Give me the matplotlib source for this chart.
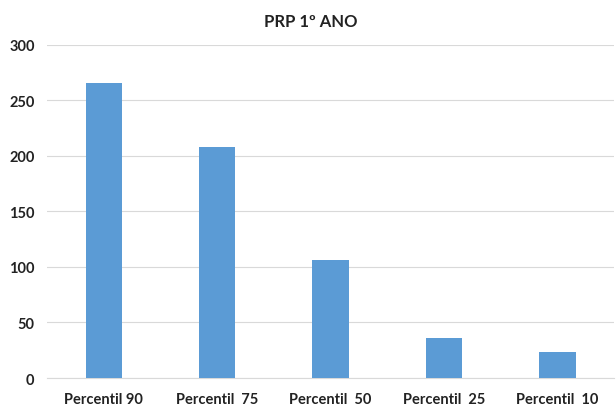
import matplotlib
matplotlib.use("Agg")
import matplotlib.pyplot as plt
import numpy as np

categories = ["Percentil 90", "Percentil  75", "Percentil  50", "Percentil  25", "Percentil  10"]
values = [266, 208, 106, 36, 23]
yticks = [0, 50, 100, 150, 200, 250, 300]

plt.rcParams["font.family"] = ["Lato", "DejaVu Sans"]

fig = plt.figure(figsize=(6.16, 4.06), dpi=100)
ax = fig.add_axes([0.0765, 0.0665, 0.9205, 0.8205])

x = np.arange(len(categories))
ax.bar(x, values, width=0.32, color="#5B9BD5", zorder=3)

ax.set_xlim(-0.5, len(categories) - 0.5)
ax.set_ylim(0, 300)
ax.set_yticks(yticks)
ax.set_yticklabels([str(t) for t in yticks], fontsize=10.5, fontweight="bold", color="#222222")
ax.set_xticks(x)
ax.set_xticklabels(categories, fontsize=10.5, fontweight="bold", color="#222222")
ax.tick_params(axis="both", length=0)
ax.tick_params(axis="y", pad=9)
ax.tick_params(axis="x", pad=10)

ax.grid(axis="y", color="#D9D9D9", linewidth=0.8, zorder=0)
for side in ["top", "right", "left"]:
    ax.spines[side].set_visible(False)
ax.spines["bottom"].set_color("#D9D9D9")

fig.suptitle("PRP 1º ANO", x=0.505, y=0.965, fontsize=12, fontweight="bold", color="#222222")

fig.savefig("out.png", dpi=100, facecolor="white")
plt.close(fig)
